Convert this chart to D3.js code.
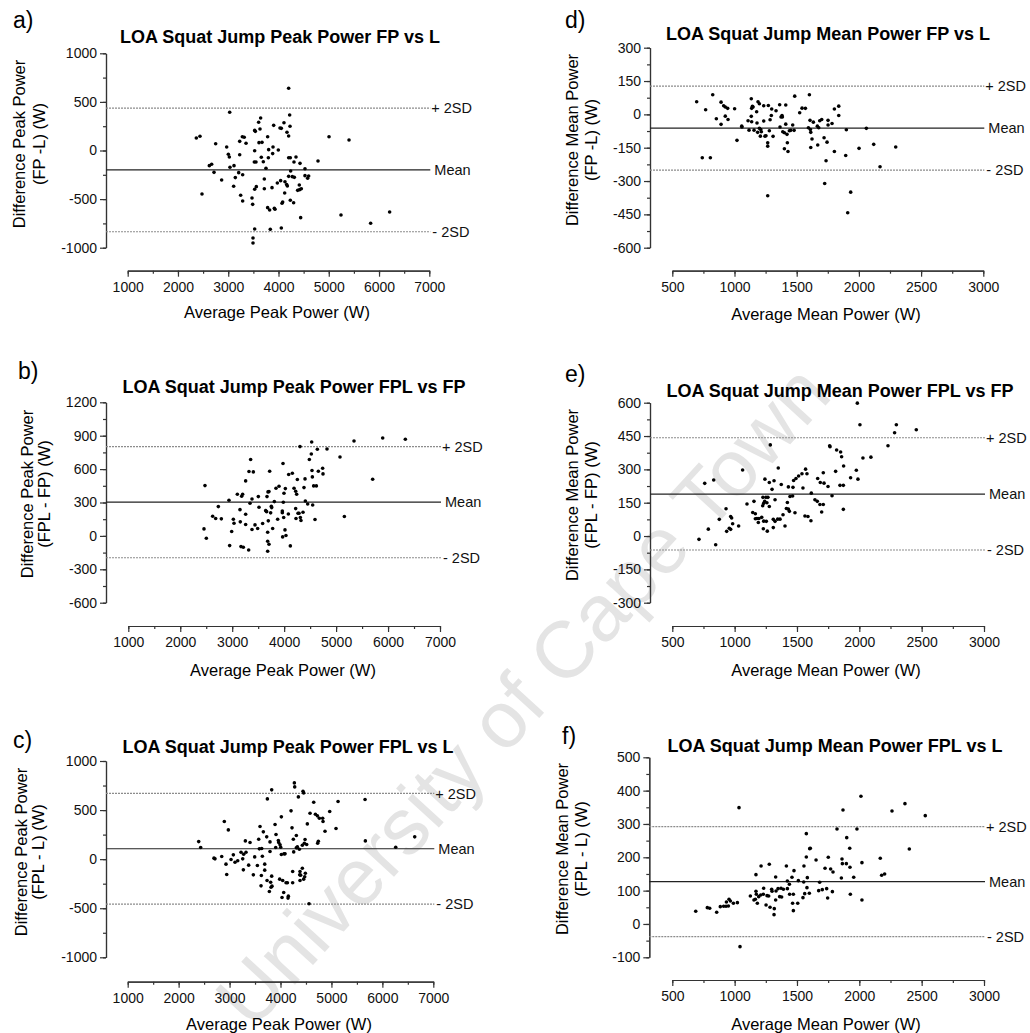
<!DOCTYPE html>
<html>
<head>
<meta charset="utf-8">
<script src="https://cdn.jsdelivr.net/npm/d3@7"></script>
<style>
  body { margin: 0; background: #fff; }
  svg text { font-family: "Liberation Sans", Arial, sans-serif; }
</style>
</head>
<body>
<div id="chart"></div>
<script>
// Bland-Altman points: [average, difference] in watts

const peakFpVsL = [[4202,640],[3029,393],[3645,334],[3605,290],[4222,365],[4109,286],[3904,259],[4030,232],[4056,228],[4229,249],[3526,207],[3539,197],[3632,221],[4169,187],[4202,149],[3784,142],[3281,142],[3318,136],[2365,129],[2438,146],[5005,142],[5403,108],[2750,70],[3228,94],[3354,74],[3612,81],[3672,84],[3891,36],[3804,9],[3996,5],[2969,36],[3526,-2],[3002,-39],[3022,-67],[3228,-43],[3884,-32],[3658,-70],[3798,-74],[4202,-74],[4235,-74],[4348,-67],[4786,-108],[3519,-118],[3552,-118],[3698,-115],[4308,-118],[4428,-132],[2624,-156],[2670,-142],[3115,-156],[3035,-173],[3751,-183],[4527,-187],[2717,-225],[3208,-228],[3287,-249],[4242,-211],[4202,-266],[4275,-269],[4315,-276],[4527,-259],[4600,-262],[4580,-286],[2869,-303],[3141,-279],[3718,-293],[4043,-310],[3977,-334],[4129,-321],[4162,-351],[4176,-365],[4414,-355],[4421,-403],[4381,-410],[4454,-393],[3108,-368],[3559,-372],[3718,-393],[3871,-382],[2478,-447],[3526,-399],[4123,-437],[3247,-461],[3287,-519],[3473,-489],[3486,-554],[4235,-512],[4083,-530],[4070,-543],[4301,-537],[3784,-588],[3824,-612],[3930,-605],[3917,-595],[4441,-691],[5243,-663],[5833,-749],[6211,-633],[3526,-807],[3837,-811],[4056,-797],[3493,-900],[3493,-952]];

const peakFplVsFp = [[2476,452],[2457,63],[2502,-21],[2624,177],[2682,156],[2733,263],[2791,153],[2938,320],[2951,-87],[2990,39],[3022,150],[3035,114],[3099,374],[3150,236],[3156,126],[3169,-96],[3214,-102],[3182,356],[3201,374],[3259,494],[3259,195],[3259,102],[3323,578],[3355,686],[3407,575],[3317,-126],[3343,293],[3381,332],[3381,57],[3439,99],[3490,66],[3503,353],[3516,257],[3586,111],[3644,227],[3663,218],[3670,353],[3689,395],[3708,398],[3695,135],[3683,33],[3683,-48],[3708,-75],[3683,-138],[3721,581],[3740,207],[3753,266],[3760,254],[3779,66],[3811,308],[3843,428],[3875,150],[3901,446],[3978,650],[3984,302],[3965,224],[3965,209],[3997,383],[3991,165],[4023,425],[4016,54],[4035,3],[3971,-9],[4081,197],[4087,551],[4158,563],[4119,-90],[4190,428],[4222,401],[4241,374],[4222,245],[4228,156],[4254,506],[4267,203],[4286,203],[4312,165],[4324,138],[4363,213],[4382,434],[4402,512],[4408,314],[4453,287],[4485,686],[4523,736],[4530,844],[4536,587],[4543,530],[4549,278],[4568,449],[4620,449],[4594,147],[4639,778],[4658,581],[4741,608],[4748,557],[4305,802],[4825,781],[5075,709],[5159,174],[5345,853],[5704,509],[5897,880],[6333,868]];

const peakFplVsL = [[2394,179],[2433,118],[2694,10],[2714,3],[2846,27],[2897,383],[2930,-51],[2944,-157],[2976,298],[3029,-4],[3074,44],[3107,-31],[3160,-17],[3225,71],[3258,3],[3277,50],[3323,71],[3271,-109],[3310,186],[3402,169],[3375,-61],[3467,-160],[3493,23],[3546,-65],[3572,203],[3598,332],[3585,105],[3631,108],[3644,30],[3624,-167],[3618,-272],[3663,278],[3690,-51],[3690,-112],[3729,227],[3742,614],[3736,-218],[3781,-330],[3794,176],[3794,78],[3807,-235],[3827,706],[3827,-173],[3833,-275],[3814,-286],[3893,353],[3912,251],[3906,118],[3958,190],[3965,169],[3991,146],[3984,-204],[4004,122],[4017,431],[4017,47],[4043,-218],[4063,-340],[4069,54],[4089,54],[4109,-241],[4030,-391],[4154,-377],[4148,-397],[4135,-241],[4207,492],[4226,319],[4239,-241],[4239,-126],[4259,74],[4252,203],[4272,777],[4279,736],[4311,241],[4311,115],[4331,125],[4370,101],[4351,634],[4383,-126],[4396,-163],[4383,-218],[4377,-160],[4429,142],[4429,-92],[4442,692],[4455,675],[4468,162],[4482,200],[4475,-180],[4488,-143],[4455,-204],[4514,149],[4527,359],[4560,-455],[4580,468],[4652,580],[4685,458],[4724,441],[4763,417],[4828,417],[4835,383],[4874,285],[4730,162],[4743,183],[4966,485],[5090,312],[5130,587],[5660,607],[5666,186],[6262,122],[6635,227]];

const meanFpVsL = [[696,57],[768,21],[825,88],[854,-20],[892,55],[892,-45],[913,39],[926,33],[945,27],[926,-8],[948,-23],[1001,25],[1020,-117],[1058,-53],[1060,-57],[741,-195],[806,-195],[1109,-29],[1135,70],[1144,36],[1138,27],[1149,33],[1135,-9],[1138,-33],[1117,-71],[1157,-71],[1178,12],[1189,57],[1200,48],[1181,-39],[1200,-63],[1211,-68],[1186,-81],[1216,-78],[1208,-98],[1235,39],[1235,-30],[1245,-98],[1253,-96],[1272,40],[1267,-128],[1267,-143],[1280,-74],[1286,-24],[1296,-5],[1299,24],[1310,-99],[1334,16],[1363,43],[1366,-57],[1374,-12],[1382,-5],[1385,-12],[1388,-78],[1401,-83],[1401,-155],[1412,42],[1412,-44],[1422,-90],[1425,-128],[1430,-167],[1441,-74],[1452,-72],[1468,-48],[1479,-72],[1484,82],[1524,7],[1543,28],[1570,27],[1602,88],[1594,-60],[1607,-27],[1610,-68],[1613,-81],[1623,-111],[1613,-149],[1634,-35],[1666,-53],[1677,-60],[1669,-138],[1685,-29],[1701,-23],[1720,-105],[1736,-209],[1744,-125],[1752,-27],[1752,-48],[1784,-41],[1803,24],[1838,37],[1838,-5],[1803,-167],[1725,-311],[1899,-69],[1894,-185],[1934,-350],[1910,-443],[2001,-153],[2060,-63],[2119,-135],[2170,-236],[2296,-147],[1267,-366]];

const meanFplVsFp = [[1984,598],[2005,501],[2283,465],[2297,501],[2457,478],[2230,406],[2029,351],[2093,355],[1286,410],[1762,406],[1765,402],[1818,387],[1850,378],[1858,357],[1874,315],[1976,296],[1810,291],[1930,262],[1989,256],[1064,297],[1350,306],[760,237],[832,252],[1243,256],[1278,241],[1316,249],[1300,210],[1374,232],[1431,221],[1468,219],[1473,250],[1492,259],[1513,270],[1540,280],[1569,301],[1580,280],[1548,216],[1615,193],[1666,259],[1687,241],[1711,285],[1717,238],[1749,223],[1781,181],[1845,228],[1872,228],[1872,120],[1644,163],[1663,156],[1684,142],[1711,142],[1698,108],[1564,90],[1588,88],[1612,69],[1444,178],[1465,180],[1423,151],[1415,124],[1431,121],[1439,111],[1484,105],[1388,96],[1364,76],[1345,76],[1324,66],[1310,75],[1324,163],[1267,174],[1278,133],[1251,174],[1227,174],[1225,136],[1233,147],[1241,156],[1259,150],[1155,156],[1099,144],[1145,106],[1166,100],[1179,79],[1166,78],[1195,79],[1217,84],[1190,61],[1233,67],[1254,66],[1230,33],[1262,22],[1310,38],[1404,45],[931,123],[877,75],[968,88],[976,81],[984,55],[957,35],[968,30],[936,21],[1032,45],[789,31],[714,-15],[848,-39]];

const meanFplVsL = [[688,38],[781,49],[800,47],[856,35],[885,52],[912,53],[931,53],[950,54],[934,66],[955,74],[966,69],[990,62],[1022,64],[1035,349],[1043,-68],[1126,84],[1155,72],[1171,98],[1174,89],[1166,74],[1182,62],[1193,82],[1212,174],[1171,148],[1209,87],[1233,107],[1230,89],[1252,57],[1260,85],[1278,179],[1273,84],[1284,50],[1297,104],[1300,98],[1318,46],[1316,28],[1329,141],[1332,99],[1348,106],[1329,72],[1361,82],[1372,107],[1377,81],[1391,104],[1415,174],[1423,106],[1423,129],[1439,119],[1441,89],[1460,140],[1471,89],[1476,160],[1465,62],[1471,40],[1506,62],[1511,130],[1548,79],[1554,126],[1556,174],[1562,91],[1575,271],[1575,201],[1583,139],[1580,109],[1599,92],[1602,226],[1607,227],[1653,192],[1674,100],[1682,125],[1703,103],[1725,167],[1738,106],[1746,78],[1751,200],[1770,165],[1784,97],[1789,156],[1821,285],[1856,138],[1861,195],[1864,181],[1869,342],[1896,181],[1899,259],[1923,227],[1928,89],[1925,170],[1955,140],[1981,285],[2013,383],[2021,184],[2021,72],[2168,197],[2179,146],[2203,150],[2262,339],[2366,361],[2401,225],[2529,325]];

// Limits of agreement per panel (a..f): mean, +2SD, -2SD
const loaMean  = [-200, 303, 106, -62, 189, 127];
const loaUpper = [436, 802, 670, 127, 442, 292];
const loaLower = [-836, -196, -458, -251, -63, -38];

// Axis ticks
const peakXTicks = [1000, 2000, 3000, 4000, 5000, 6000, 7000];
const meanXTicks = [500, 1000, 1500, 2000, 2500, 3000];
const yTicksA = [-1000, -500, 0, 500, 1000];
const yTicksB = [-600, -300, 0, 300, 600, 900, 1200];
const yTicksD = [-600, -450, -300, -150, 0, 150, 300];
const yTicksE = [-300, -150, 0, 150, 300, 450, 600];
const yTicksF = [-100, 0, 100, 200, 300, 400, 500];

const panelLetters = ["a)", "b)", "c)", "d)", "e)", "f)"];
const panelTitles = [
  "LOA Squat Jump Peak Power FP vs L",
  "LOA Squat Jump Peak Power FPL vs FP",
  "LOA Squat Jump Peak Power FPL vs L",
  "LOA Squat Jump Mean Power FP vs L",
  "LOA Squat Jump Mean Power FPL vs FP",
  "LOA Squat Jump Mean Power FPL vs L"
];
const yTitles = [
  ["Difference Peak Power", "(FP -L) (W)"],
  ["Difference Peak Power", "(FPL - FP) (W)"],
  ["Difference Peak Power", "(FPL - L) (W)"],
  ["Difference Mean Power", "(FP -L) (W)"],
  ["Difference Mean Power", "(FPL - FP) (W)"],
  ["Difference Mean Power", "(FPL - L) (W)"]
];
const xTitles = [
  "Average Peak Power (W)", "Average Peak Power (W)", "Average Peak Power (W)",
  "Average Mean Power (W)", "Average Mean Power (W)", "Average Mean Power (W)"
];

const width = 1030;
const height = 1033;

const svg = d3.select("#chart")
  .append("svg")
  .attr("width", width)
  .attr("height", height);

// Watermark across the figure
svg.append("text")
  .attr("transform", "translate(543,714) rotate(-47.5)")
  .attr("text-anchor", "middle")
  .style("font-size", "80px")
  .style("fill", "#e4e4e4")
  .text("University of Cape Town");

// Panel layout (pixel positions)
const layout = [
  { points: peakFpVsL, xDom: [1000, 7000], xTicks: peakXTicks, xMinor: 500, yDom: [-1000, 1000], yTicks: yTicksA, yMinor: 250,
    axisX: 106, yTop: 53.3, yBot: 247.7, xAxisY: 270.7, xLeft: 127.7, xRight: 429.3,
    letter: [13, 28], title: [280, 42.7], xTitle: [277, 318], yTitle: [25, 44.5, 144] },
  { points: peakFplVsFp, xDom: [1000, 7000], xTicks: peakXTicks, xMinor: 500, yDom: [-600, 1200], yTicks: yTicksB, yMinor: 150,
    axisX: 106, yTop: 402.3, yBot: 602.7, xAxisY: 626, xLeft: 128.3, xRight: 440,
    letter: [18, 379], title: [294, 393], xTitle: [283, 676], yTitle: [33, 49.5, 494] },
  { points: peakFplVsL, xDom: [1000, 7000], xTicks: peakXTicks, xMinor: 500, yDom: [-1000, 1000], yTicks: yTicksA, yMinor: 250,
    axisX: 106, yTop: 761, yBot: 957.3, xAxisY: 981.7, xLeft: 127.7, xRight: 433.3,
    letter: [13, 748], title: [288, 753], xTitle: [279, 1030], yTitle: [27, 43.5, 852] },
  { points: meanFpVsL, xDom: [500, 3000], xTicks: meanXTicks, xMinor: 250, yDom: [-600, 300], yTicks: yTicksD, yMinor: 75,
    axisX: 650, yTop: 47.7, yBot: 247.7, xAxisY: 270.7, xLeft: 672.3, xRight: 983.3,
    letter: [565, 28], title: [828, 40], xTitle: [826, 320], yTitle: [578, 596.5, 140] },
  { points: meanFplVsFp, xDom: [500, 3000], xTicks: meanXTicks, xMinor: 250, yDom: [-300, 600], yTicks: yTicksE, yMinor: 75,
    axisX: 650, yTop: 402.7, yBot: 602.7, xAxisY: 626, xLeft: 672.3, xRight: 984,
    letter: [565, 382], title: [840, 397], xTitle: [826, 676], yTitle: [578, 596.5, 495] },
  { points: meanFplVsL, xDom: [500, 3000], xTicks: meanXTicks, xMinor: 250, yDom: [-100, 500], yTicks: yTicksF, yMinor: 50,
    axisX: 649.3, yTop: 757.3, yBot: 957.3, xAxisY: 980, xLeft: 672.3, xRight: 984,
    letter: [562, 744], title: [835, 752], xTitle: [826, 1030], yTitle: [568, 586.5, 849] }
];

function styleAxis(g) {
  g.selectAll("path, line").style("stroke", "#333").style("stroke-width", 1.2);
  g.selectAll("text").style("font-size", "14px").style("fill", "#111");
}

function drawPanel(p, i) {
  const g = svg.append("g");

  const x = d3.scaleLinear().domain(p.xDom).range([p.xLeft, p.xRight]);
  const y = d3.scaleLinear().domain(p.yDom).range([p.yBot, p.yTop]);

  // minor ticks first, then labelled major ticks
  const yMinorVals = d3.range(p.yDom[0], p.yDom[1] + 1e-6, p.yMinor);
  const xMinorVals = d3.range(p.xDom[0], p.xDom[1] + 1e-6, p.xMinor);

  g.append("g")
    .attr("transform", `translate(${p.axisX},0)`)
    .call(d3.axisLeft(y).tickValues(yMinorVals).tickSize(3).tickSizeOuter(0).tickFormat(""))
    .call(styleAxis);
  g.append("g")
    .attr("transform", `translate(${p.axisX},0)`)
    .call(d3.axisLeft(y).tickValues(p.yTicks).tickSize(6).tickPadding(3).tickSizeOuter(0).tickFormat(d => String(d)))
    .call(styleAxis);

  g.append("g")
    .attr("transform", `translate(0,${p.xAxisY})`)
    .call(d3.axisBottom(x).tickValues(xMinorVals).tickSize(3).tickSizeOuter(0).tickFormat(""))
    .call(styleAxis);
  g.append("g")
    .attr("transform", `translate(0,${p.xAxisY})`)
    .call(d3.axisBottom(x).tickValues(p.xTicks).tickSize(6).tickPadding(5).tickSizeOuter(0).tickFormat(d => String(d)))
    .call(styleAxis);

  // limits of agreement
  const loa = [
    { v: loaUpper[i], label: "+ 2SD", solid: false, dx: 2 },
    { v: loaMean[i], label: "Mean", solid: true, dx: 5 },
    { v: loaLower[i], label: "- 2SD", solid: false, dx: 3 }
  ];
  loa.forEach(l => {
    g.append("line")
      .attr("x1", p.axisX)
      .attr("x2", p.xRight + 1)
      .attr("y1", y(l.v))
      .attr("y2", y(l.v))
      .style("stroke", l.solid ? "#222" : "#8c8c8c")
      .style("stroke-width", l.solid ? 1.2 : 1.1)
      .style("stroke-dasharray", l.solid ? null : "2,1");
    g.append("text")
      .attr("x", p.xRight + l.dx)
      .attr("y", y(l.v))
      .attr("dy", "0.36em")
      .style("font-size", "14.5px")
      .style("fill", "#111")
      .text(l.label);
  });

  // points
  g.selectAll("circle")
    .data(p.points)
    .join("circle")
    .attr("cx", d => x(d[0]))
    .attr("cy", d => y(d[1]))
    .attr("r", 1.8)
    .style("fill", "#000");

  // titles and labels
  g.append("text")
    .attr("x", p.letter[0])
    .attr("y", p.letter[1])
    .style("font-size", "23px")
    .text(panelLetters[i]);

  g.append("text")
    .attr("x", p.title[0])
    .attr("y", p.title[1])
    .attr("text-anchor", "middle")
    .style("font-size", "18px")
    .style("font-weight", "bold")
    .text(panelTitles[i]);

  g.append("text")
    .attr("x", p.xTitle[0])
    .attr("y", p.xTitle[1])
    .attr("text-anchor", "middle")
    .style("font-size", "16.5px")
    .text(xTitles[i]);

  yTitles[i].forEach((t, k) => {
    g.append("text")
      .attr("transform", `translate(${p.yTitle[k]},${p.yTitle[2]}) rotate(-90)`)
      .attr("text-anchor", "middle")
      .style("font-size", "16.5px")
      .text(t);
  });
}

layout.forEach(drawPanel);
</script>
</body>
</html>
